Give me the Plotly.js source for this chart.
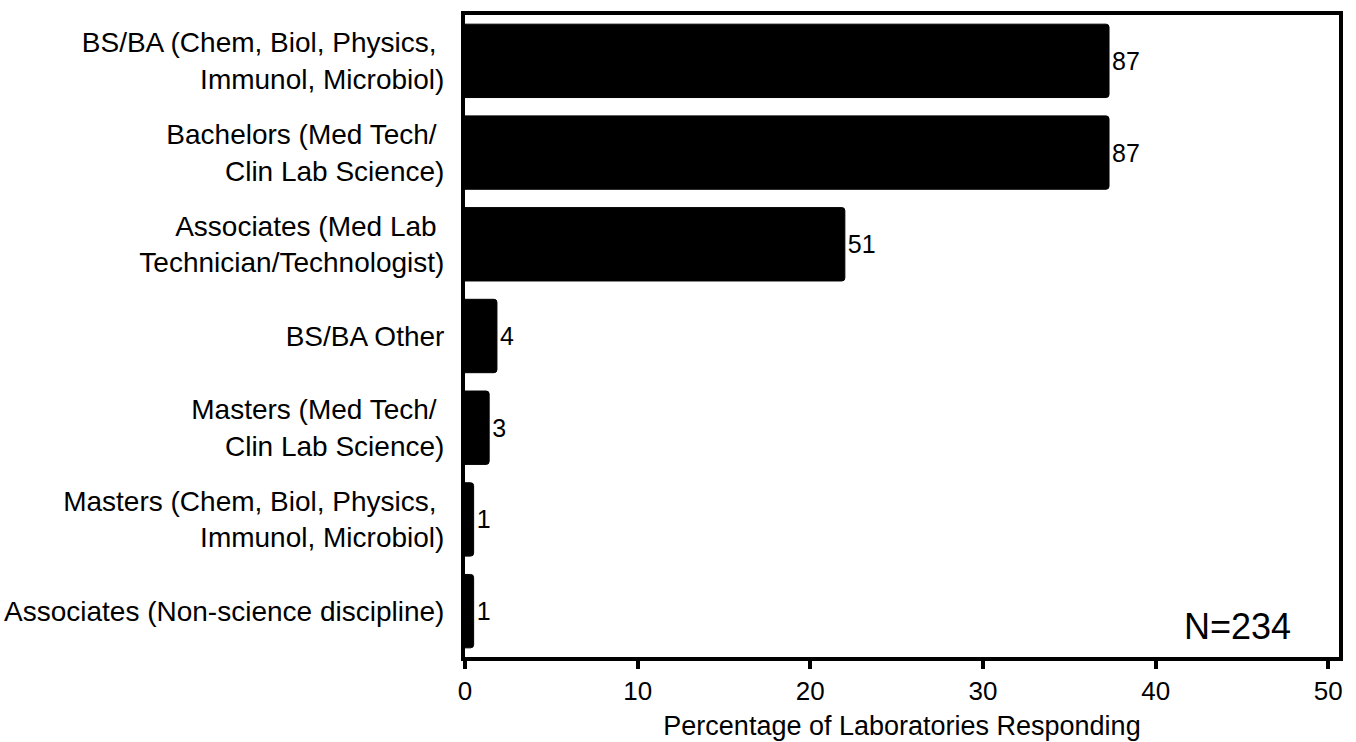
<!DOCTYPE html>
<html>
<head>
<meta charset="utf-8">
<script src="https://cdn.plot.ly/plotly-3.0.1.min.js"></script>
<style>
html,body{margin:0;padding:0;background:#fff;}
#chart{width:1356px;height:742px;}
</style>
</head>
<body>
<div id="chart"></div>
<script>
const categories = [
  "BS/BA (Chem, Biol, Physics, <br>Immunol, Microbiol)",
  "Bachelors (Med Tech/ <br>Clin Lab Science)",
  "Associates (Med Lab <br>Technician/Technologist)",
  "BS/BA Other",
  "Masters (Med Tech/ <br>Clin Lab Science)",
  "Masters (Chem, Biol, Physics, <br>Immunol, Microbiol)",
  "Associates (Non-science discipline)"
];
const percentValues = [37.3, 37.3, 22.0, 1.85, 1.4, 0.5, 0.5];
const countLabels = ["87", "87", "51", "4", "3", "1", "1"];
const xTickValues = [0, 10, 20, 30, 40, 50];
const xTitle = "Percentage of Laboratories Responding";
const nLabel = "N=234";

const FONT = "Arial, 'Liberation Sans', sans-serif";

const trace = {
  type: "bar",
  orientation: "h",
  y: categories,
  x: percentValues,
  text: countLabels,
  textposition: "outside",
  cliponaxis: false,
  textfont: {family: FONT, size: 25, color: "#000"},
  marker: {color: "#000", line: {color: "#000", width: 1}, cornerradius: 3},
  hoverinfo: "none"
};

const layout = {
  width: 1356,
  height: 742,
  margin: {l: 465, r: 17, t: 15, b: 85},
  paper_bgcolor: "#fff",
  plot_bgcolor: "#fff",
  bargap: 0.2,
  showlegend: false,
  font: {family: FONT, size: 26, color: "#000"},
  xaxis: {
    range: [0, 50.62],
    tickvals: xTickValues,
    ticktext: xTickValues.map(String),
    ticks: "outside",
    ticklen: 8,
    tickwidth: 4,
    tickcolor: "#000",
    showline: true,
    linewidth: 4,
    linecolor: "#000",
    mirror: true,
    showgrid: false,
    zeroline: false,
    tickfont: {family: FONT, size: 26, color: "#000"},
    title: {text: xTitle, font: {family: FONT, size: 27, color: "#000"}, standoff: 12}
  },
  yaxis: {
    type: "category",
    autorange: "reversed",
    ticks: "",
    showline: true,
    linewidth: 4,
    linecolor: "#000",
    mirror: true,
    showgrid: false,
    zeroline: false,
    ticklabelstandoff: 11,
    tickfont: {family: FONT, size: 28, color: "#000"}
  },
  annotations: [{
    text: nLabel,
    xref: "paper", yref: "paper",
    x: 0.9475, y: 0.047,
    xanchor: "right", yanchor: "middle",
    showarrow: false,
    font: {family: FONT, size: 36, color: "#000"}
  }]
};

Plotly.newPlot("chart", [trace], layout, {staticPlot: true, displayModeBar: false});
</script>
</body>
</html>
